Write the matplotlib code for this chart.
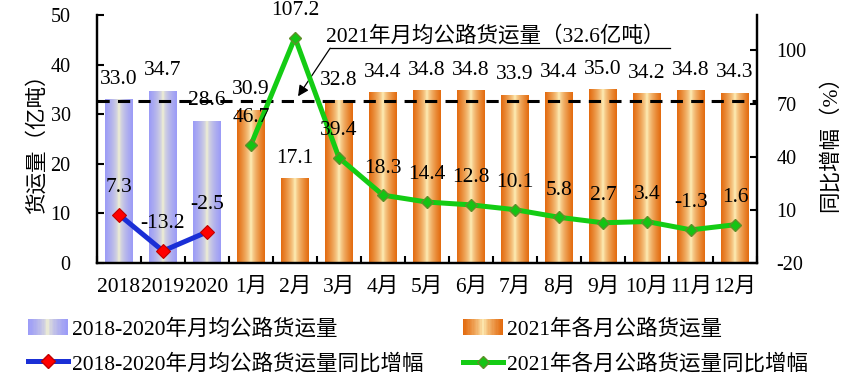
import numpy as np
import matplotlib
matplotlib.use('Agg')
import matplotlib.pyplot as plt
from matplotlib.legend_handler import HandlerBase
from matplotlib.patches import Rectangle, Patch
from matplotlib.lines import Line2D

plt.rcParams['font.family'] = ['Liberation Serif', 'Noto Sans CJK SC']
plt.rcParams['axes.unicode_minus'] = False

# data
years = ['2018', '2019', '2020']
avg_freight = [33.0, 34.7, 28.6]
avg_growth = [7.3, -13.2, -2.5]
months = ['1月', '2月', '3月', '4月', '5月', '6月', '7月', '8月', '9月', '10月', '11月', '12月']
month_freight = [30.9, 17.1, 32.8, 34.4, 34.8, 34.8, 33.9, 34.4, 35.0, 34.2, 34.8, 34.3]
month_growth = [46.7, 107.2, 39.4, 18.3, 14.4, 12.8, 10.1, 5.8, 2.7, 3.4, -1.3, 1.6]
monthly_mean = 32.6

BLUE_EDGE = np.array([0.61, 0.61, 0.97])
ORANGE_EDGE = np.array([0.89, 0.42, 0.06])
BLUE_MID = np.array([1.0, 1.0, 0.80])
ORANGE_MID = np.array([1.0, 0.96, 0.75])
FS = 15.5
TFS = 14.5


def grad_colors(edge, mid, p, n=64):
    t = np.abs(np.linspace(0, 1, n) - 0.5) * 2
    return mid + (edge - mid) * (t[:, None] ** p)


class GradHandler(HandlerBase):
    def __init__(self, edge, mid, p):
        super().__init__()
        self.edge, self.mid, self.p = edge, mid, p

    def create_artists(self, legend, orig_handle, xdescent, ydescent,
                       width, height, fontsize, trans):
        n = 30
        cols = grad_colors(self.edge, self.mid, self.p, n)
        out = []
        for i in range(n):
            r = Rectangle((-xdescent + i * width / n, -ydescent), width / n * 1.05, height,
                          facecolor=cols[i], edgecolor='none', lw=0, transform=trans)
            out.append(r)
        return out


fig = plt.figure(figsize=(8.65, 3.84), dpi=100)
ax = fig.add_axes([0.1121, 0.3151, 0.763, 0.646])
ax2 = ax.twinx()

labels = years + months
n_years = len(years)
x_years = np.arange(n_years)
x_months = np.arange(len(months)) + n_years
bw = 0.62

bars1 = ax.bar(x_years, avg_freight, width=bw, color='none', edgecolor='none')
bars2 = ax.bar(x_months, month_freight, width=bw, color='none', edgecolor='none')
for bars, edge, mid, p in [(bars1, BLUE_EDGE, BLUE_MID, 0.45), (bars2, ORANGE_EDGE, ORANGE_MID, 0.65)]:
    img = grad_colors(edge, mid, p)[None, :, :]
    for b in bars:
        x0, w, h = b.get_x(), b.get_width(), b.get_height()
        im = ax.imshow(img, extent=[x0, x0 + w, 0, h], aspect='auto',
                       interpolation='bilinear', zorder=1)
        im.set_clip_path(b)
    for b in bars:
        ax.annotate(f'{b.get_height():.1f}', (b.get_x() + b.get_width() / 2, b.get_height()),
                    xytext=(0, 14.5), textcoords='offset points', ha='center', va='center',
                    fontsize=FS, zorder=5)

# average line and its annotation
ax.axhline(monthly_mean, color='black', lw=2.2, linestyle=(0, (4, 2.7)), zorder=3)
ax.text(8.55, 45.6, f'2021年月均公路货运量（{monthly_mean}亿吨）', ha='center', va='center',
        fontsize=FS, zorder=6)
ax.plot([4.8, 12.52], [43.3, 43.3], color='black', lw=0.9, zorder=6, clip_on=False)
ax.annotate('', xy=(4.07, 33.6), xytext=(4.8, 43.3),
            arrowprops=dict(arrowstyle='-|>', color='black', lw=0.9, mutation_scale=16,
                            shrinkA=0, shrinkB=0), zorder=6)

# growth lines
ax2.plot(x_years, avg_growth, color='#1a2fd6', lw=3.6, marker='D', ms=7.2,
         mfc='#ff0000', mec='#c00000', mew=0.8, zorder=4)
ax2.plot(x_months, month_growth, color='#14cc14', lw=3.6, marker='D', ms=6.4,
         mfc='#14c414', mec='#5f8f2a', mew=1.0, zorder=4)
for xs, vs in [(x_years, avg_growth), (x_months, month_growth)]:
    for xv, v in zip(xs, vs):
        ax2.annotate(f'{v:.1f}', (xv, v), xytext=(0, 19.5), textcoords='offset points',
                     ha='center', va='center', fontsize=FS, zorder=5)

ax.set_xlim(-0.5, len(labels) - 0.5)
ax.set_ylim(0, 50)
ax.set_yticks(np.arange(0, 51, 10))
ax2.set_ylim(-20, 120)
ax2.set_yticks([-20, 10, 40, 70, 100])
ax.set_xticks(np.arange(len(labels)))
ax.set_xticklabels(labels)
ax.set_xticks(np.arange(len(labels) + 1) - 0.5, minor=True)

for a in (ax, ax2):
    for s in a.spines.values():
        s.set_linewidth(1.6)
    a.spines['top'].set_visible(False)
ax.tick_params(axis='x', which='major', length=0, pad=11, labelsize=FS)
ax.tick_params(axis='x', which='minor', direction='in', length=5, width=1.5)
ax.tick_params(axis='y', direction='in', length=5, width=1.5, pad=19, labelsize=TFS)
ax2.tick_params(axis='y', direction='in', length=5, width=1.5, pad=14, labelsize=TFS)
ax.set_ylabel('货运量（亿吨）', fontsize=FS, labelpad=2)
ax2.set_ylabel('同比增幅（%）', fontsize=FS, rotation=90, labelpad=10)

handles = [Patch(), Patch(),
           Line2D([], [], color='#1a2fd6', lw=3.6, marker='D', ms=7.2, mfc='#ff0000', mec='#c00000'),
           Line2D([], [], color='#14cc14', lw=3.6, marker='D', ms=6.4, mfc='#14c414', mec='#5f8f2a')]
names = ['2018-2020年月均公路货运量', '2021年各月公路货运量',
         '2018-2020年月均公路货运量同比增幅', '2021年各月公路货运量同比增幅']
order = [0, 2, 1, 3]
fig.legend([handles[i] for i in order], [names[i] for i in order],
           handler_map={handles[0]: GradHandler(BLUE_EDGE, BLUE_MID, 0.45),
                        handles[1]: GradHandler(ORANGE_EDGE, ORANGE_MID, 0.65)},
           loc='upper left', bbox_to_anchor=(0.032, 0.17), ncol=2, frameon=False,
           fontsize=FS, borderpad=0, borderaxespad=0, handlelength=1.85, handleheight=0.75,
           handletextpad=0.2, columnspacing=1.85, labelspacing=0.65, numpoints=1)

fig.savefig('out.png', dpi=100)
